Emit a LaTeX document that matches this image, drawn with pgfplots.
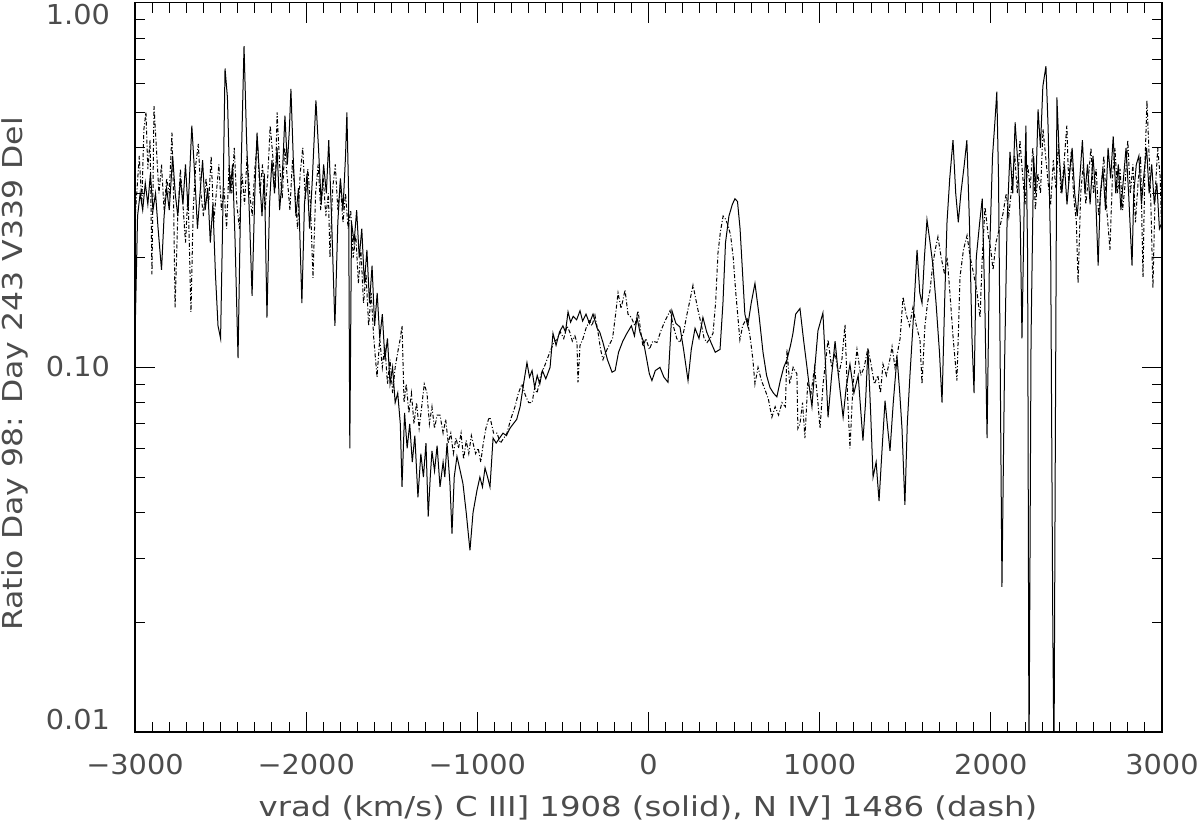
\documentclass[border=0pt]{standalone}
\usepackage{fontspec}
\setmainfont{DejaVu Sans}
\usepackage{pgfplots}
\pgfplotsset{compat=1.18}

\begin{document}
\fontsize{13.7}{16}\selectfont
\begin{tikzpicture}
\path[use as bounding box] (-67.5pt,-49pt) rectangle (532.5pt,366pt);
\begin{axis}[
    scale only axis,
    width=513.5pt, height=364.65pt,
    ymode=log,
    xmin=-3000, xmax=3000,
    ymin=0.01, ymax=1,
    axis line style={black, line width=0.6pt},
    tick align=inside,
    tick style={black, line width=0.5pt},
    major tick length=10pt,
    minor tick length=5pt,
    xtick={-3000,-2000,-1000,0,1000,2000,3000},
    xticklabels={−3000,−2000,−1000,0,1000,2000,3000},
    minor x tick num=9,
    xticklabel style={anchor=center, yshift=-16.5pt, text=black!70, xscale=1.05},
    ytick={0.01,0.1,1},
    yticklabels={},
    clip=true,
]
% C III] 1908
\addplot[black, line width=0.5pt] coordinates {
(-3000,0.12) (-2985,0.26) (-2970,0.30) (-2955,0.27) (-2940,0.32) (-2925,0.28) (-2910,0.34) (-2895,0.27)
(-2880,0.30) (-2865,0.24) (-2845,0.185) (-2830,0.26) (-2815,0.31) (-2800,0.27) (-2780,0.38) (-2765,0.30)
(-2750,0.26) (-2735,0.33) (-2720,0.28) (-2705,0.36) (-2690,0.27) (-2668,0.46) (-2650,0.33) (-2635,0.24)
(-2620,0.30) (-2605,0.37) (-2590,0.27) (-2575,0.31) (-2560,0.22) (-2545,0.28) (-2530,0.18) (-2515,0.13)
(-2500,0.12) (-2485,0.30) (-2474,0.66) (-2460,0.55) (-2445,0.30) (-2430,0.36) (-2415,0.22) (-2398,0.106)
(-2380,0.35) (-2363,0.76) (-2348,0.42) (-2330,0.25) (-2316,0.157) (-2300,0.30) (-2287,0.44) (-2272,0.33)
(-2258,0.26) (-2244,0.34) (-2229,0.137) (-2214,0.28) (-2200,0.37) (-2185,0.30) (-2170,0.40) (-2155,0.27)
(-2140,0.33) (-2124,0.49) (-2110,0.36) (-2098,0.45) (-2089,0.58) (-2075,0.37) (-2060,0.26) (-2045,0.31)
(-2025,0.15) (-2010,0.28) (-1995,0.34) (-1980,0.24) (-1965,0.32) (-1943,0.54) (-1928,0.40) (-1912,0.28)
(-1898,0.36) (-1882,0.30) (-1868,0.42) (-1852,0.26) (-1832,0.13) (-1815,0.25) (-1800,0.33) (-1785,0.27)
(-1770,0.38) (-1762,0.50) (-1752,0.30) (-1745,0.06) (-1735,0.25) (-1720,0.22) (-1705,0.27) (-1690,0.20)
(-1675,0.24) (-1660,0.17) (-1645,0.21) (-1630,0.15) (-1615,0.19) (-1600,0.13) (-1585,0.16) (-1570,0.12)
(-1555,0.14) (-1540,0.105) (-1525,0.12) (-1510,0.09) (-1495,0.10) (-1480,0.08) (-1465,0.085) (-1450,0.07)
(-1440,0.047) (-1425,0.075) (-1410,0.06) (-1395,0.07) (-1380,0.055) (-1365,0.065) (-1347,0.044) (-1330,0.058)
(-1315,0.05) (-1300,0.062) (-1287,0.039) (-1275,0.05) (-1265,0.059) (-1250,0.052) (-1235,0.061) (-1218,0.047)
(-1200,0.055) (-1190,0.050) (-1177,0.062) (-1160,0.048) (-1148,0.035) (-1135,0.050) (-1119,0.057) (-1100,0.052)
(-1084,0.048) (-1065,0.040) (-1043,0.0315) (-1025,0.040) (-1002,0.046) (-985,0.050) (-970,0.047) (-955,0.053)
(-940,0.050) (-926,0.047) (-908,0.064) (-890,0.062) (-870,0.064) (-850,0.066) (-830,0.065) (-810,0.068)
(-790,0.070) (-770,0.072) (-750,0.078) (-730,0.09) (-710,0.103) (-695,0.094) (-680,0.098) (-665,0.088)
(-650,0.095) (-635,0.090) (-620,0.098) (-600,0.093) (-575,0.10) (-558,0.124) (-540,0.115) (-520,0.125)
(-500,0.13) (-485,0.125) (-470,0.142) (-455,0.133) (-440,0.138) (-420,0.135) (-400,0.143) (-385,0.134)
(-365,0.140) (-345,0.132) (-324,0.140) (-300,0.128) (-285,0.125) (-266,0.117) (-240,0.105) (-213,0.097)
(-195,0.098) (-175,0.110) (-150,0.118) (-126,0.124) (-100,0.130) (-82,0.122) (-67,0.137) (-50,0.125)
(-30,0.118) (-10,0.105) (5,0.096) (20,0.092) (40,0.098) (67,0.10) (90,0.094) (114,0.091)
(137,0.143) (160,0.132) (184,0.129) (205,0.112) (231,0.092) (250,0.112) (272,0.128) (295,0.120)
(318,0.137) (340,0.125) (365,0.117) (390,0.110) (418,0.112) (435,0.15) (450,0.22) (470,0.26)
(490,0.28) (505,0.29) (520,0.285) (535,0.24) (550,0.18) (563,0.14) (580,0.13) (600,0.15)
(622,0.17) (645,0.14) (669,0.11) (690,0.095) (710,0.088) (730,0.085) (750,0.083) (770,0.092)
(790,0.10) (809,0.105) (830,0.115) (844,0.124) (860,0.14) (885,0.145) (905,0.12) (926,0.10)
(940,0.088) (955,0.078) (972,0.10) (990,0.126) (1019,0.141) (1035,0.10) (1049,0.073) (1070,0.095)
(1090,0.118) (1115,0.09) (1137,0.073) (1155,0.088) (1177,0.102) (1200,0.085) (1225,0.095) (1253,0.063)
(1268,0.08) (1282,0.112) (1298,0.075) (1312,0.05) (1330,0.055) (1347,0.043) (1365,0.06) (1382,0.081)
(1395,0.07) (1411,0.059) (1430,0.08) (1452,0.107) (1468,0.085) (1481,0.068) (1498,0.042) (1512,0.07)
(1528,0.096) (1545,0.13) (1569,0.21) (1585,0.16) (1598,0.15) (1612,0.20) (1627,0.254) (1645,0.22)
(1662,0.19) (1680,0.15) (1700,0.11) (1715,0.08) (1730,0.15) (1744,0.25) (1760,0.33) (1779,0.42)
(1795,0.30) (1810,0.25) (1825,0.30) (1845,0.36) (1860,0.42) (1875,0.25) (1890,0.12) (1902,0.085)
(1915,0.20) (1935,0.25) (1950,0.29) (1965,0.15) (1978,0.064) (1992,0.20) (2010,0.38) (2025,0.48)
(2035,0.57) (2045,0.33) (2055,0.10) (2065,0.025) (2080,0.10) (2095,0.25) (2112,0.39) (2128,0.30)
(2142,0.47) (2160,0.35) (2172,0.25) (2182,0.12) (2195,0.28) (2205,0.46) (2215,0.20) (2223,0.008)
(2235,0.12) (2250,0.38) (2262,0.30) (2276,0.51) (2290,0.40) (2304,0.59) (2322,0.67) (2335,0.45)
(2350,0.20) (2362,0.02) (2369,0.008) (2376,0.05) (2386,0.55) (2400,0.38) (2415,0.30) (2430,0.36)
(2445,0.28) (2460,0.34) (2475,0.40) (2490,0.30) (2505,0.26) (2520,0.33) (2535,0.42) (2550,0.30)
(2565,0.36) (2580,0.28) (2597,0.38) (2612,0.30) (2627,0.19) (2640,0.30) (2655,0.35) (2670,0.27)
(2685,0.40) (2700,0.33) (2715,0.43) (2730,0.30) (2745,0.36) (2760,0.27) (2775,0.33) (2790,0.40)
(2805,0.30) (2825,0.19) (2835,0.30) (2850,0.36) (2865,0.38) (2880,0.28) (2895,0.34) (2910,0.40)
(2925,0.30) (2940,0.36) (2955,0.28) (2970,0.32) (2985,0.24) (3000,0.25)
};
% N IV] 1486
\addplot[black, line width=0.5pt, dash pattern=on 2pt off 1pt on 0.5pt off 1pt] coordinates {
(-3000,0.25) (-2990,0.30) (-2975,0.38) (-2960,0.28) (-2948,0.45) (-2936,0.50) (-2925,0.35) (-2912,0.42)
(-2901,0.18) (-2889,0.52) (-2875,0.40) (-2860,0.30) (-2845,0.36) (-2830,0.27) (-2815,0.33) (-2800,0.30)
(-2784,0.44) (-2775,0.30) (-2766,0.146) (-2750,0.26) (-2735,0.35) (-2720,0.28) (-2705,0.22) (-2690,0.30)
(-2673,0.142) (-2660,0.27) (-2645,0.36) (-2630,0.41) (-2615,0.30) (-2600,0.26) (-2585,0.33) (-2570,0.28)
(-2555,0.38) (-2540,0.25) (-2525,0.30) (-2510,0.36) (-2495,0.27) (-2480,0.31) (-2465,0.24) (-2450,0.36)
(-2435,0.30) (-2420,0.40) (-2405,0.28) (-2390,0.24) (-2375,0.34) (-2360,0.28) (-2345,0.38) (-2330,0.30)
(-2315,0.26) (-2300,0.35) (-2285,0.42) (-2270,0.30) (-2255,0.36) (-2240,0.27) (-2225,0.33) (-2210,0.46)
(-2195,0.38) (-2180,0.31) (-2170,0.50) (-2155,0.36) (-2140,0.29) (-2125,0.40) (-2110,0.33) (-2095,0.27)
(-2080,0.37) (-2065,0.30) (-2050,0.24) (-2035,0.34) (-2020,0.40) (-2005,0.29) (-1990,0.35) (-1975,0.28)
(-1960,0.176) (-1945,0.30) (-1930,0.36) (-1915,0.27) (-1900,0.33) (-1885,0.26) (-1870,0.30) (-1861,0.20)
(-1845,0.31) (-1830,0.36) (-1815,0.27) (-1800,0.32) (-1785,0.25) (-1770,0.30) (-1755,0.24) (-1740,0.27)
(-1725,0.20) (-1710,0.23) (-1695,0.17) (-1680,0.21) (-1665,0.15) (-1650,0.18) (-1635,0.13) (-1620,0.16)
(-1605,0.12) (-1586,0.094) (-1570,0.12) (-1555,0.10) (-1540,0.115) (-1525,0.09) (-1510,0.105) (-1495,0.085)
(-1480,0.10) (-1465,0.11) (-1450,0.12) (-1440,0.13) (-1428,0.08) (-1415,0.09) (-1400,0.075) (-1385,0.085)
(-1370,0.07) (-1355,0.08) (-1340,0.068) (-1325,0.078) (-1310,0.09) (-1294,0.085) (-1280,0.07) (-1265,0.078)
(-1250,0.068) (-1235,0.074) (-1218,0.074) (-1200,0.066) (-1185,0.072) (-1170,0.062) (-1155,0.066) (-1140,0.058)
(-1125,0.064) (-1110,0.06) (-1095,0.066) (-1080,0.056) (-1065,0.063) (-1050,0.058) (-1035,0.065) (-1025,0.062)
(-1010,0.058) (-995,0.060) (-980,0.055) (-965,0.062) (-950,0.068) (-935,0.072) (-926,0.073) (-905,0.066)
(-885,0.066) (-865,0.062) (-845,0.064) (-827,0.066) (-805,0.072) (-780,0.078) (-760,0.085) (-739,0.09)
(-720,0.084) (-700,0.08) (-680,0.08) (-665,0.088) (-651,0.085) (-630,0.095) (-610,0.10) (-593,0.105)
(-570,0.112) (-550,0.118) (-535,0.119) (-515,0.125) (-495,0.12) (-476,0.13) (-460,0.125) (-445,0.118)
(-430,0.122) (-418,0.117) (-412,0.091) (-400,0.115) (-385,0.119) (-365,0.128) (-345,0.134) (-330,0.13)
(-313,0.139) (-295,0.125) (-280,0.112) (-266,0.105) (-250,0.11) (-230,0.115) (-210,0.12) (-192,0.14)
(-178,0.16) (-160,0.145) (-137,0.163) (-120,0.14) (-100,0.137) (-80,0.13) (-61,0.143) (-45,0.125)
(-32,0.114) (-15,0.12) (5,0.112) (25,0.118) (50,0.117) (70,0.125) (90,0.132) (110,0.138)
(126,0.143) (145,0.13) (165,0.12) (184,0.117) (205,0.125) (225,0.14) (245,0.155) (260,0.168)
(275,0.155) (290,0.143) (310,0.13) (325,0.12) (342,0.117) (360,0.12) (377,0.124) (392,0.15)
(406,0.206) (420,0.235) (436,0.26) (450,0.255) (465,0.245) (480,0.23) (495,0.20) (510,0.16)
(534,0.119) (550,0.13) (575,0.137) (595,0.12) (610,0.105) (622,0.09) (640,0.10) (660,0.092)
(680,0.087) (700,0.082) (721,0.073) (740,0.078) (760,0.074) (780,0.08) (800,0.078) (809,0.112)
(825,0.09) (845,0.10) (867,0.096) (873,0.068) (885,0.07) (900,0.08) (914,0.064) (930,0.09)
(950,0.085) (970,0.10) (990,0.08) (1002,0.068) (1020,0.09) (1049,0.119) (1070,0.10) (1090,0.11)
(1110,0.095) (1130,0.105) (1148,0.131) (1160,0.09) (1177,0.06) (1195,0.09) (1218,0.112) (1240,0.095)
(1260,0.10) (1282,0.113) (1300,0.102) (1320,0.09) (1340,0.095) (1355,0.085) (1370,0.102) (1390,0.095)
(1410,0.105) (1423,0.114) (1440,0.10) (1455,0.11) (1470,0.12) (1487,0.156) (1505,0.14) (1525,0.13)
(1545,0.146) (1565,0.13) (1586,0.119) (1598,0.09) (1615,0.13) (1630,0.15) (1645,0.163) (1660,0.19)
(1675,0.21) (1691,0.228) (1710,0.20) (1730,0.18) (1745,0.20) (1761,0.16) (1780,0.12) (1802,0.092)
(1820,0.177) (1840,0.21) (1861,0.23) (1880,0.20) (1900,0.18) (1920,0.16) (1937,0.137) (1950,0.20)
(1966,0.275) (1985,0.23) (2000,0.21) (2013,0.185) (2030,0.22) (2050,0.24) (2071,0.264) (2090,0.30)
(2105,0.26) (2124,0.32) (2140,0.38) (2155,0.30) (2170,0.42) (2185,0.34) (2200,0.28) (2215,0.36)
(2230,0.31) (2245,0.40) (2260,0.27) (2275,0.34) (2290,0.30) (2305,0.45) (2320,0.38) (2335,0.32)
(2350,0.28) (2365,0.37) (2380,0.31) (2395,0.41) (2410,0.30) (2425,0.35) (2444,0.46) (2455,0.32)
(2470,0.39) (2485,0.29) (2500,0.25) (2510,0.17) (2525,0.30) (2540,0.36) (2555,0.28) (2570,0.33)
(2585,0.40) (2600,0.30) (2615,0.35) (2630,0.26) (2645,0.31) (2660,0.38) (2675,0.28) (2696,0.21)
(2710,0.33) (2725,0.40) (2740,0.30) (2755,0.35) (2770,0.27) (2785,0.32) (2800,0.42) (2815,0.30)
(2830,0.36) (2845,0.25) (2860,0.32) (2875,0.38) (2889,0.177) (2900,0.35) (2912,0.54) (2925,0.38)
(2935,0.28) (2947,0.165) (2960,0.30) (2975,0.40) (2990,0.33) (3000,0.21)
};
\end{axis}
\node[anchor=east, text=black!70, xscale=1.05] at (-7.5pt,358.5pt) {1.00};
\node[anchor=east, text=black!70, xscale=1.05] at (-7.5pt,182.5pt) {0.10};
\node[anchor=east, text=black!70, xscale=1.05] at (-7.5pt,6pt) {0.01};
\node[rotate=90, xscale=1.15, text=black!70] at (-60pt,179pt) {Ratio Day 98: Day 243 V339 Del};
\node[xscale=1.18, text=black!70] at (256.5pt,-38pt) {vrad (km/s) C III] 1908 (solid), N IV] 1486 (dash)};
\end{tikzpicture}
\end{document}
